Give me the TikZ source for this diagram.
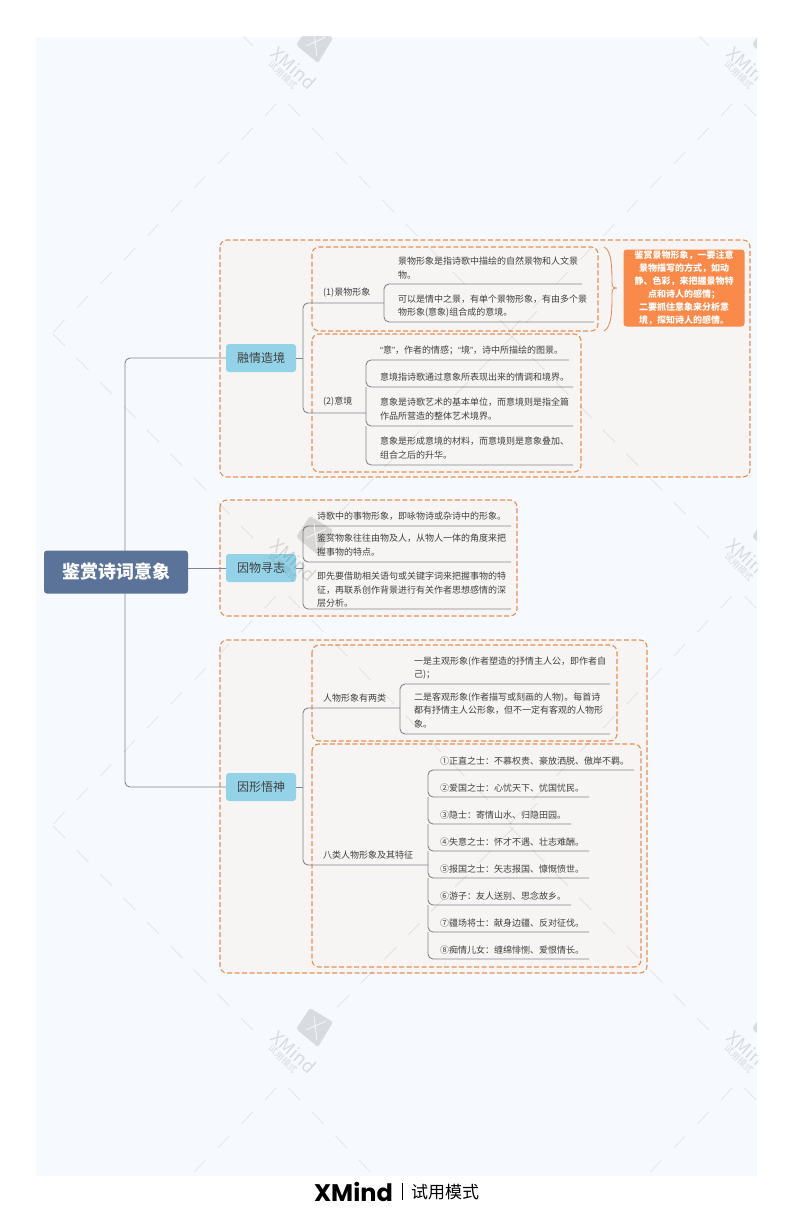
\documentclass[tikz,border=0pt]{standalone}
\usepackage{fontspec}
\setmainfont{Noto Sans CJK SC}
\newfontfamily\quotefont{Liberation Sans}
\newfontfamily\brandfont{Poppins}
\usetikzlibrary{positioning}
\definecolor{pagebg}{HTML}{F6FAFE}
\definecolor{dashorange}{HTML}{E98F55}
\definecolor{boxfill}{HTML}{F7F5F3}
\definecolor{linegray}{HTML}{80868F}
\definecolor{topicblue}{HTML}{94D2E8}
\definecolor{rootblue}{HTML}{5B7299}
\definecolor{notefill}{HTML}{F98A49}
\tikzset{
  root/.style={fill=rootblue, rounded corners=3pt, minimum width=144, minimum height=43, text=white, font=\fontsize{18}{20}\selectfont\bfseries, inner sep=0pt},
  topic/.style={fill=topicblue, rounded corners=3pt, minimum width=70, minimum height=28, text=black!75, font=\fontsize{12}{14}\selectfont, inner sep=0pt},
  sub/.style={anchor=west, text=black!75, font=\fontsize{9}{12}\selectfont, inner sep=0pt},
  leaf/.style={sub, align=left, font=\fontsize{9}{13.5}\selectfont},
  note/.style={fill=notefill, rounded corners=3pt, text=white, align=center, minimum width=121, minimum height=77, inner sep=0pt, font=\fontsize{9}{13}\selectfont\bfseries},
  group/.style={draw=dashorange, fill=boxfill, dash pattern=on 5pt off 2.5pt, rounded corners=7pt, line width=1.1pt},
  branch/.style={draw=linegray, line width=.9pt, rounded corners=5pt},
  wmline/.style={draw=black, draw opacity=.08, line width=.8pt},
  wmtext/.style={text=black, text opacity=.12, inner sep=0pt}
}
\newcommand{\wmlogo}[2]{%
  \begin{scope}[shift={(#1,#2)}]
    \fill[black, fill opacity=.12, rounded corners=2pt] (-5,-19) -- (18,-5) -- (3,20) -- (-19,2) -- cycle;
    \draw[white, opacity=.7, line width=.9pt] (-9,3) -- (11,-6) (-1,-11) -- (2,13);
    \node[wmtext, rotate=-42, font=\fontsize{18}{18}\selectfont] at (-21,25) {XMind};
    \node[wmtext, rotate=-45, font=\fontsize{9}{9}\selectfont] at (-32,32) {试用模式};
    \foreach \n in {0,...,9} {
      \draw[wmline] (-39-23.5*\n,61+24*\n) -- ++(-11,12);
      \draw[wmline] (-26.5+23.5*\n,61+24*\n) -- ++(11.5,12);
    }
    \foreach \n in {0,...,8} {
      \draw[wmline] (-74-23.5*\n,-9-24*\n) -- ++(12,12);
      \draw[wmline] (34.5+23.5*\n,-32-24*\n) -- ++(-12,12);
    }
  \end{scope}}
\begin{document}
\begin{tikzpicture}[x=1pt, y=-1pt]
\useasboundingbox (0,0) rectangle (794,1212);
\fill[white] (0,0) rectangle (794,1212);
\fill[pagebg] (36,37) rectangle (757,1176);
% frames
\draw[group] (220,240) rectangle (750,477);
\draw[group] (220,500) rectangle (517,616);
\draw[group] (220,640) rectangle (647,973);
\draw[group] (312,247) rectangle (598,331);
\draw[group] (312,334) rectangle (581,472);
\draw[group] (312,645) rectangle (617,741);
\draw[group] (312,744) rectangle (641,967);
% main nodes
\node[root] (root) at (116,572) {鉴赏诗词意象};
\node[topic] (qing) at (261,358) {融情造境};
\node[topic] (wu) at (261,568) {因物寻志};
\node[topic] (xing) at (261,787) {因形悟神};
\node[sub] (jing) at (323,293) {(1)景物形象};
\node[sub] (yi) at (323,402) {(2)意境};
\node[sub] (liang) at (323,698) {人物形象有两类};
\node[sub] (ba) at (323,855) {八类人物形象及其特征};
% leaves
\node[leaf] (j1) at (398,268) {景物形象是指诗歌中描绘的自然景物和人文景\\物。};
\node[leaf] (j2) at (398,306) {可以是情中之景，有单个景物形象，有由多个景\\物形象(意象)组合成的意境。};
\node[leaf] (y1) at (380,350) {{\quotefont “}意{\quotefont ”}，作者的情感；{\quotefont “}境{\quotefont ”}，诗中所描绘的图景。};
\node[leaf] (y2) at (380,377) {意境指诗歌通过意象所表现出来的情调和境界。};
\node[leaf] (y3) at (380,409) {意象是诗歌艺术的基本单位，而意境则是指全篇\\作品所营造的整体艺术境界。};
\node[leaf] (y4) at (380,448) {意象是形成意境的材料，而意境则是意象叠加、\\组合之后的升华。};
\node[leaf] (w1) at (317,516) {诗歌中的事物形象，即咏物诗或杂诗中的形象。};
\node[leaf] (w2) at (317,545) {鉴赏物象往往由物及人，从物人一体的角度来把\\握事物的特点。};
\node[leaf] (w3) at (317,590) {即先要借助相关语句或关键字词来把握事物的特\\征，再联系创作背景进行有关作者思想感情的深\\层分析。};
\node[leaf] (l1) at (414,668) {一是主观形象(作者塑造的抒情主人公，即作者自\\己)；};
\node[leaf] (l2) at (414,710) {二是客观形象(作者描写或刻画的人物)。每首诗\\都有抒情主人公形象，但不一定有客观的人物形\\象。};
\node[leaf] (b1) at (440,761) {①正直之士：不慕权贵、豪放洒脱、傲岸不羁。};
\node[leaf] (b2) at (440,788) {②爱国之士：心忧天下、忧国忧民。};
\node[leaf] (b3) at (440,815) {③隐士：寄情山水、归隐田园。};
\node[leaf] (b4) at (440,842) {④失意之士：怀才不遇、壮志难酬。};
\node[leaf] (b5) at (440,869) {⑤报国之士：矢志报国、慷慨愤世。};
\node[leaf] (b6) at (440,896) {⑥游子：友人送别、思念故乡。};
\node[leaf] (b7) at (440,923) {⑦疆场将士：献身边疆、反对征伐。};
\node[leaf] (b8) at (440,950) {⑧痴情儿女：缠绵悱恻、爱恨情长。};
\node[note] (tip) at (684,288) {鉴赏景物形象，一要注意\\景物描写的方式，如动\\静、色彩，来把握景物特\\点和诗人的感情；\\二要抓住意象来分析意\\境，探知诗人的感情。};
% root to topics
\coordinate (rootup) at (125,551);
\coordinate (rootdown) at (125,593);
\draw[branch] (rootup) |- (qing.west);
\draw[branch] (rootdown) |- (xing.west);
\draw[branch] (root.east |- wu) -- (wu.west);
% topic to subs
\coordinate (qingfork) at (303,358);
\coordinate (wufork) at (303,568);
\coordinate (xingfork) at (303,787);
\draw[branch] (qing.east) -- (qingfork);
\draw[branch] (qingfork) |- (384,303);
\draw[branch] (qingfork) |- (366,413);
\draw[branch] (wu.east) -- (wufork);
\draw[branch] (xing.east) -- (xingfork);
\draw[branch] (xingfork) |- (400,708);
\draw[branch] (xingfork) |- (428,865);
% leaf brackets
\draw[branch] (582,284) -- (384,284) |- (594,322);
\draw[branch] (569,360) -- (366,360) |- (573,387);
\draw[branch] (366,387) |- (573,426);
\draw[branch] (366,426) |- (573,465);
\draw[branch] (511,526) -- (303,526) |- (511,562);
\draw[branch] (303,562) |- (511,609);
\draw[branch] (610,684) -- (400,684) |- (610,734);
\draw[branch] (634,770) -- (428,770) |- (589,797);
\draw[branch] (428,797) |- (571,824);
\draw[branch] (428,824) |- (589,851);
\draw[branch] (428,851) |- (589,878);
\draw[branch] (428,878) |- (571,905);
\draw[branch] (428,905) |- (589,932);
\draw[branch] (428,932) |- (589,959);
% brace
\draw[draw=dashorange, line width=.9pt] (604,247) .. controls (612,250) and (612,270) .. (612,282) .. controls (612,287) and (613,288) .. (617,288) .. controls (613,288) and (612,289) .. (612,294) .. controls (612,310) and (612,327) .. (604,331);
% watermark
\begin{scope}
\clip (36,37) rectangle (757,1176);
\foreach \ly in {43,535,1027} {
  \wmlogo{315}{\ly}
  \wmlogo{771}{\ly}
}
\end{scope}
% footer
\node[font=\brandfont\fontsize{24}{24}\selectfont\bfseries, inner sep=0pt, anchor=east] (brand) at (393,1192) {XMind};
\node[font=\fontsize{17}{17}\selectfont, inner sep=0pt, anchor=west] (mode) at (411,1192) {试用模式};
\draw[line width=.8pt] (402,1183) -- (402,1200);
\end{tikzpicture}
\end{document}
